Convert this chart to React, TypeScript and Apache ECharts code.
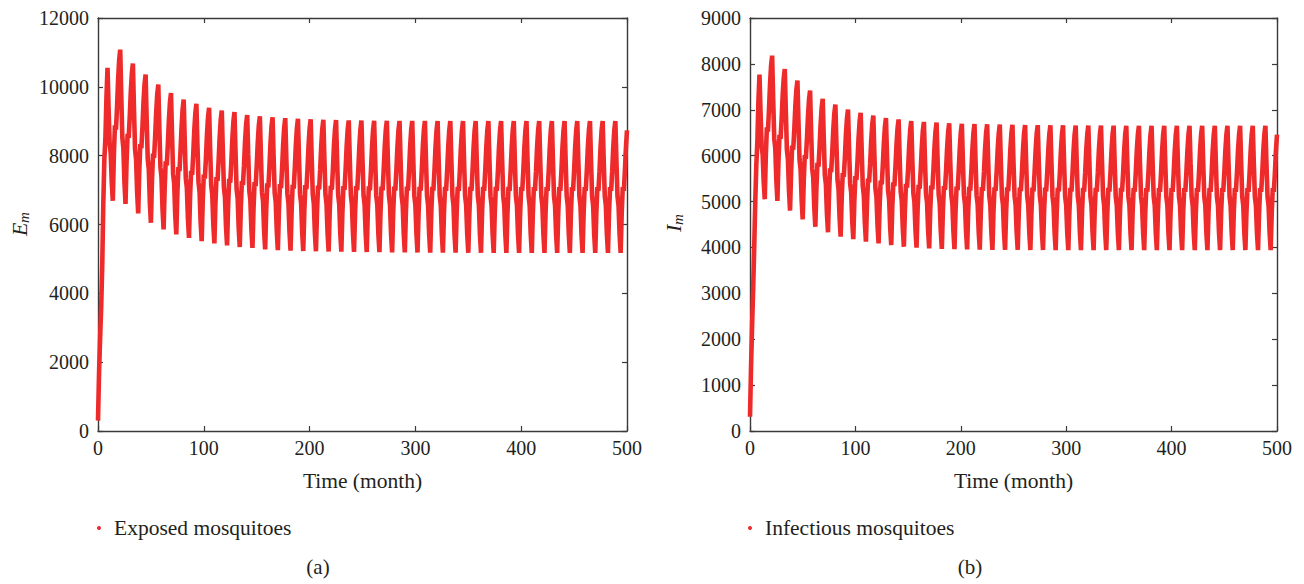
import React, { useEffect, useRef } from "react";
import * as echarts from "echarts";

// ---- data ----
// months 0..8 of the initial transient, before the first peak at month 9
const eInitial = [300, 1700, 2700, 3600, 4800, 6600, 7900, 8500, 9700];
const iInitial = [310, 1400, 2300, 3100, 4000, 5000, 5800, 6300, 7200];
// yearly peaks (month 12k+9) and the troughs that follow them (month 12k+14)
const ePeaks = [10550, 11080, 10675, 10360, 10065, 9820, 9630, 9505, 9390, 9310, 9270, 9180, 9145, 9115, 9090, 9070, 9055, 9045, 9035, 9025, 9020, 9015, 9012, 9010, 9010, 9010, 9008, 9008, 9008, 9008, 9006, 9006, 9006, 9006, 9005, 9005, 9005, 9005, 9005, 9005, 9005, 9005];
const eTroughs = [6690, 6600, 6320, 6050, 5855, 5710, 5610, 5515, 5450, 5390, 5345, 5320, 5275, 5255, 5240, 5230, 5222, 5215, 5210, 5205, 5200, 5195, 5190, 5188, 5185, 5183, 5180, 5180, 5178, 5178, 5176, 5176, 5175, 5175, 5175, 5175, 5175, 5175, 5175, 5175, 5175, 5175];
const iPeaks = [7765, 8180, 7890, 7635, 7420, 7240, 7115, 7005, 6935, 6875, 6820, 6790, 6755, 6735, 6720, 6705, 6695, 6688, 6682, 6676, 6672, 6668, 6665, 6662, 6660, 6658, 6656, 6655, 6654, 6653, 6652, 6651, 6650, 6650, 6650, 6650, 6650, 6650, 6650, 6650, 6650, 6650];
const iTroughs = [5050, 5015, 4800, 4610, 4450, 4330, 4235, 4180, 4125, 4090, 4050, 4015, 3995, 3980, 3970, 3962, 3956, 3952, 3948, 3946, 3945, 3944, 3943, 3942, 3942, 3942, 3941, 3941, 3940, 3940, 3940, 3940, 3940, 3940, 3940, 3940, 3940, 3940, 3940, 3940, 3940, 3940];
// within-year shape: fraction of the swing each month
const fallShape = [1, 0.7, 0.43, 0.36, 0.14, 0]; // peak -> trough (5 months)
const riseShape = [0, 0.3, 0.5, 0.47, 0.62, 0.8, 0.93, 1]; // trough -> next peak (7 months)

const xMax = 500;
const xInterval = 100;
const eYMax = 12000;
const eYInterval = 2000;
const iYMax = 9000;
const iYInterval = 1000;
const seriesNames = ["Exposed mosquitoes", "Infectious mosquitoes"];
const panelLabels = ["(a)", "(b)"];
const xTitle = "Time (month)";

function buildSeries(initial: number[], peaks: number[], troughs: number[]) {
  const pts: [number, number][] = initial.map((v, t) => [t, v]);
  let t = initial.length;
  pts.push([t, peaks[0]]);
  for (let k = 0; k < troughs.length && t < xMax; k++) {
    const p = peaks[k];
    const tr = troughs[k];
    const next = peaks[k + 1] ?? p;
    for (let m = 1; m < fallShape.length && t < xMax; m++) {
      t++;
      pts.push([t, tr + (p - tr) * fallShape[m]]);
    }
    for (let m = 1; m < riseShape.length && t < xMax; m++) {
      t++;
      pts.push([t, tr + (next - tr) * riseShape[m]]);
    }
  }
  return pts;
}

const FONT = "'Liberation Serif', 'DejaVu Serif', serif";
const TEXT = "#231f20";
const AXIS = "#3a3a3a";
const RED = "#ee2a2b";

export default function App() {
  const ref = useRef<HTMLDivElement>(null);
  useEffect(() => {
    document.body.style.margin = "0";
    if (!ref.current) return;
    const chart = echarts.init(ref.current, undefined, { renderer: "svg" });

    const grids = [
      { left: 98, top: 18, width: 529, height: 413 },
      { left: 750, top: 18, width: 527, height: 413 },
    ];
    const yMaxes = [eYMax, iYMax];
    const yIntervals = [eYInterval, iYInterval];
    const lineStyle = { color: AXIS, width: 1.4 };
    const tickStyle = { show: true, inside: true, length: 5, lineStyle: { color: AXIS, width: 1.2 } };

    const xAxes: any[] = [];
    const yAxes: any[] = [];
    grids.forEach((g, gi) => {
      xAxes.push({
        type: "value",
        gridIndex: gi,
        min: 0,
        max: xMax,
        interval: xInterval,
        position: "bottom",
        name: xTitle,
        nameLocation: "middle",
        nameGap: 39,
        nameTextStyle: { fontFamily: FONT, fontSize: 21.5, color: TEXT },
        axisLine: { show: true, onZero: false, lineStyle },
        axisTick: tickStyle,
        axisLabel: { fontFamily: FONT, fontSize: 20, color: TEXT, margin: 7, formatter: (v: number) => String(v) },
        splitLine: { show: false },
      });
      xAxes.push({
        type: "value",
        gridIndex: gi,
        min: 0,
        max: xMax,
        interval: xInterval,
        position: "top",
        axisLine: { show: true, onZero: false, lineStyle },
        axisTick: tickStyle,
        axisLabel: { show: false },
        splitLine: { show: false },
      });
      yAxes.push({
        type: "value",
        gridIndex: gi,
        min: 0,
        max: yMaxes[gi],
        interval: yIntervals[gi],
        position: "left",
        axisLine: { show: true, onZero: false, lineStyle },
        axisTick: tickStyle,
        axisLabel: { fontFamily: FONT, fontSize: 20, color: TEXT, margin: 9, formatter: (v: number) => String(v) },
        splitLine: { show: false },
      });
      yAxes.push({
        type: "value",
        gridIndex: gi,
        min: 0,
        max: yMaxes[gi],
        interval: yIntervals[gi],
        position: "right",
        axisLine: { show: true, onZero: false, lineStyle },
        axisTick: tickStyle,
        axisLabel: { show: false },
        splitLine: { show: false },
      });
    });

    const eData = buildSeries(eInitial, ePeaks, eTroughs);
    const iData = buildSeries(iInitial, iPeaks, iTroughs);

    const legendBase = {
      icon: "circle",
      itemWidth: 20,
      itemHeight: 4,
      top: 512,
      orient: "horizontal",
      selectedMode: false,
      textStyle: { fontFamily: FONT, fontSize: 21.5, color: TEXT },
    };

    const yTitle = (x: number, main: string, start: number, sub: number) => ({
      type: "group",
      x,
      y: 226,
      rotation: Math.PI / 2,
      children: [
        {
          type: "text",
          x: start,
          y: 0,
          style: {
            text: main,
            font: `italic 22px ${FONT}`,
            fill: TEXT,
            textAlign: "left",
            textVerticalAlign: "middle",
          },
        },
        {
          type: "text",
          x: sub,
          y: 5,
          style: {
            text: "m",
            font: `italic 15px ${FONT}`,
            fill: TEXT,
            textAlign: "left",
            textVerticalAlign: "middle",
          },
        },
      ],
    });

    const series = [
      { name: seriesNames[0], axis: 0, data: eData },
      { name: seriesNames[1], axis: 2, data: iData },
    ].map((s) => ({
      name: s.name,
      type: "line",
      xAxisIndex: s.axis,
      yAxisIndex: s.axis,
      data: s.data,
      showSymbol: false,
      itemStyle: { color: RED },
      lineStyle: { color: RED, width: 4.6 },
    }));

    chart.setOption({
      animation: false,
      backgroundColor: "#ffffff",
      grid: grids,
      xAxis: xAxes,
      yAxis: yAxes,
      legend: [
        { ...legendBase, left: 92, data: [seriesNames[0]] },
        { ...legendBase, left: 743, data: [seriesNames[1]] },
      ],
      series,
      graphic: [
        yTitle(19, "E", -10, 3),
        yTitle(673, "I", -6, 1),
        {
          type: "text",
          x: 318,
          y: 567,
          style: { text: panelLabels[0], font: `21px ${FONT}`, fill: TEXT, textAlign: "center", textVerticalAlign: "middle" },
        },
        {
          type: "text",
          x: 970,
          y: 567,
          style: { text: panelLabels[1], font: `21px ${FONT}`, fill: TEXT, textAlign: "center", textVerticalAlign: "middle" },
        },
      ],
    });
    return () => chart.dispose();
  }, []);
  return <div ref={ref} style={{ width: 1304, height: 584 }} />;
}
